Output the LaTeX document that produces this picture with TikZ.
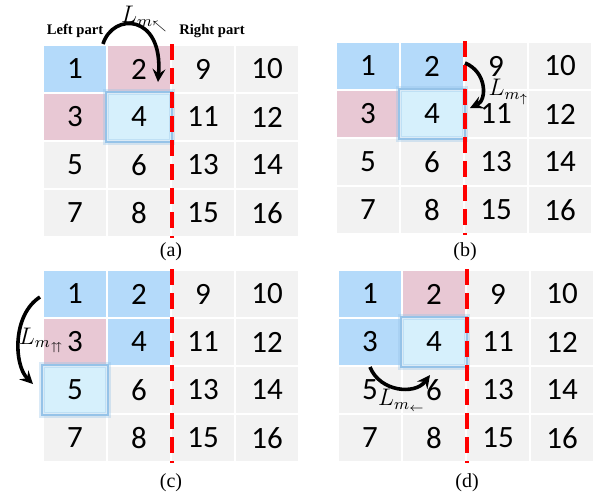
\documentclass[tikz,border=0pt]{standalone}
\usepackage{fontspec}
\usepackage{amsmath}
\usepackage{amssymb}
\usetikzlibrary{arrows, positioning, calc}
\newfontfamily\numfont{Carlito}
\newfontfamily\capfont{Liberation Serif}
\definecolor{cgray}{RGB}{242,242,242}
\definecolor{cblue}{RGB}{180,218,250}
\definecolor{cpink}{RGB}{232,200,212}
\definecolor{chlfill}{RGB}{214,240,252}
\definecolor{chlline}{RGB}{150,195,232}
\tikzset{%
  cell/.style={draw=white, line width=0.8pt, fill=cgray, minimum width=32pt, minimum height=24pt, inner sep=0pt, font=\numfont\fontsize{15.5}{15.5}\selectfont},
  hlbox/.style={draw=chlline, line width=1.2pt, preaction={draw=chlline, line width=3.2pt, opacity=0.35}},
  cut/.style={draw=red, line width=2pt, dash pattern=on 8pt off 4pt},
  move/.style={->, >=stealth, line width=1.8pt},
  side/.style={inner sep=1pt, font=\capfont\bfseries\fontsize{7.3}{8}\selectfont},
  caption/.style={inner sep=1pt, font=\capfont\fontsize{10}{11}\selectfont},
  mlabel/.style={inner sep=0pt, font=\fontsize{11.5}{12}\selectfont}
}

\begin{document}
\begin{tikzpicture}[x=0.5pt, y=0.5pt,
  a1/.style={fill=cblue}, a2/.style={fill=cpink}, a3/.style={fill=cpink}, a4/.style={fill=chlfill},
  b1/.style={fill=cblue}, b2/.style={fill=cblue}, b3/.style={fill=cpink}, b4/.style={fill=chlfill},
  c1/.style={fill=cblue}, c2/.style={fill=cblue}, c3/.style={fill=cpink}, c4/.style={fill=cblue}, c5/.style={fill=chlfill},
  d1/.style={fill=cblue}, d2/.style={fill=cpink}, d3/.style={fill=cblue}, d4/.style={fill=chlfill}]

\useasboundingbox (0,0) rectangle (601,-498);

% the four 4x4 blocks
\foreach \p/\x/\y in {a/43/45, b/336/42, c/43/270, d/338/270} {
  \foreach \row [count=\r from 0] in {{1,2,9,10},{3,4,11,12},{5,6,13,14},{7,8,15,16}} {
    \foreach \n [count=\c from 0] in \row
      \node[cell, \p\n/.try] (\p\n) at (\x+32+64*\c, -\y-24-48*\r) {\n};
  }
}

% current block
\draw[hlbox] (a4.south west) rectangle (a4.north east);
\draw[hlbox] (b4.south west) rectangle (b4.north east);
\draw[hlbox] (c5.south west) rectangle (c5.north east);
\draw[hlbox] (d4.south west) rectangle (d4.north east);

% split between left and right part
\foreach \p in {a,b,c,d}
  \draw[cut] (\p2.north east) -- (\p8.south east);

\node[side, above=2pt of a1] (lp) {Left part};
\node[side, above=2pt of a9, xshift=4.5pt] (rp) {Right part};

\node[caption] (capa) at (171,-252) {(a)};
\node[caption] (capb) at (465,-252) {(b)};
\node[caption] (capc) at (171,-483) {(c)};
\node[caption] (capd) at (467,-483) {(d)};

% moves
\coordinate (sa) at (103,-44);
\coordinate (ea) at (158,-82);
\draw[move] (sa) .. controls (113,-12) and (163,-14) .. (ea);
\node[mlabel] (la) at (145,-19) {$L_{m_{\nwarrow}}$};

\coordinate (sb) at (465,-63);
\coordinate (eb) at (470,-108);
\draw[move] (sb) .. controls (487,-72) and (487,-100) .. (eb);
\node[mlabel] (lb) at (509,-92) {$L_{m_{\uparrow}}$};

\coordinate (sc) at (40,-297);
\coordinate (ec) at (33,-384);
\draw[move] (sc) .. controls (12,-315) and (14,-365) .. (ec);
\node[mlabel] (lc) at (42,-340) {$L_{m_{\upuparrows}}$};

\coordinate (sd) at (370,-367);
\coordinate (ed) at (430,-375);
\draw[move] (sd) .. controls (380,-392) and (415,-395) .. (ed);
\node[mlabel] (ld) at (402,-400) {$L_{m_{\leftarrow}}$};

\end{tikzpicture}
\end{document}
